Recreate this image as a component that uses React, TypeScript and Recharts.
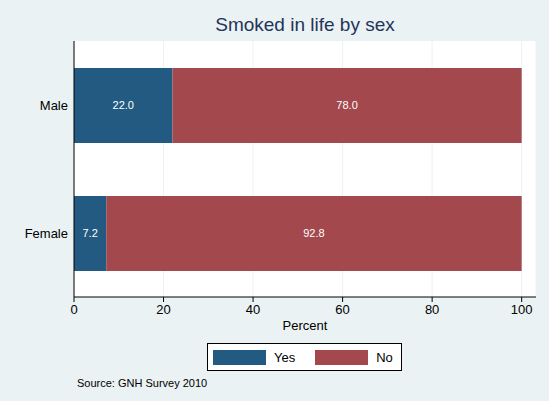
import React from 'react'
import { BarChart, Bar, XAxis, YAxis, CartesianGrid, LabelList } from 'recharts'

// Smoked in life by sex, GNH Survey 2010
const sexes = ['Male', 'Female']
const yesPct = [22.0, 7.2]
const noPct = [78.0, 92.8]
const percentTicks = [0, 20, 40, 60, 80, 100]

const data = sexes.map((sex, i) => ({ sex, yes: yesPct[i], no: noPct[i] }))

const BLUE = '#235A81'
const RED = '#A3494E'
const BG = '#EAF2F3'
const FONT = '"Liberation Sans", Arial, sans-serif'

const series = [
  { key: 'yes', name: 'Yes', color: BLUE },
  { key: 'no', name: 'No', color: RED },
]

const fmt = (v: any) => Number(v).toFixed(1)

export default function App() {
  return (
    <div
      style={{
        position: 'absolute',
        left: 0,
        top: 0,
        width: 549,
        height: 401,
        background: BG,
        fontFamily: FONT,
      }}
    >
      <div
        style={{
          position: 'absolute',
          left: 74,
          width: 462,
          top: 14,
          textAlign: 'center',
          fontSize: 19,
          color: '#25345A',
        }}
      >
        Smoked in life by sex
      </div>
      <BarChart
        width={549}
        height={401}
        data={data}
        layout="vertical"
        margin={{ top: 41, right: 13, bottom: 84, left: 0 }}
        style={{ position: 'absolute', left: 0, top: 0 }}
      >
        <CartesianGrid horizontal={false} stroke={BG} fill="#fff" />
        <XAxis
          type="number"
          domain={[0, 103.2]}
          ticks={percentTicks}
          height={20}
          axisLine={{ stroke: '#000' }}
          tickLine={{ stroke: '#000' }}
          tickSize={5}
          tickMargin={3}
          tick={{ fill: '#000', fontSize: 13 }}
        />
        <YAxis
          type="category"
          dataKey="sex"
          width={74}
          axisLine={{ stroke: '#000' }}
          tickLine={false}
          tickSize={4}
          tickMargin={2}
          tick={{ fill: '#000', fontSize: 13 }}
        />
        {series.map((s) => (
          <Bar key={s.key} dataKey={s.key} name={s.name} stackId="a" fill={s.color} barSize={75} isAnimationActive={false}>
            <LabelList dataKey={s.key} position="center" fill="#fff" fontSize={11} formatter={fmt} />
          </Bar>
        ))}
      </BarChart>
      <div
        style={{
          position: 'absolute',
          left: 74,
          width: 462,
          top: 318,
          textAlign: 'center',
          fontSize: 13,
          color: '#000',
        }}
      >
        Percent
      </div>
      <div
        style={{
          position: 'absolute',
          left: 207,
          top: 343,
          width: 195,
          height: 28,
          border: '1px solid #000',
          background: '#fff',
          boxSizing: 'border-box',
          display: 'flex',
          alignItems: 'center',
          paddingLeft: 5,
        }}
      >
        {series.map((s, i) => (
          <div key={s.key} style={{ display: 'flex', alignItems: 'center', marginLeft: i ? 20 : 0 }}>
            <div style={{ width: 53, height: 15, background: s.color }} />
            <span style={{ marginLeft: 8, fontSize: 13, color: '#000' }}>{s.name}</span>
          </div>
        ))}
      </div>
      <div style={{ position: 'absolute', left: 77, top: 377, fontSize: 11, color: '#000' }}>
        Source: GNH Survey 2010
      </div>
    </div>
  )
}
